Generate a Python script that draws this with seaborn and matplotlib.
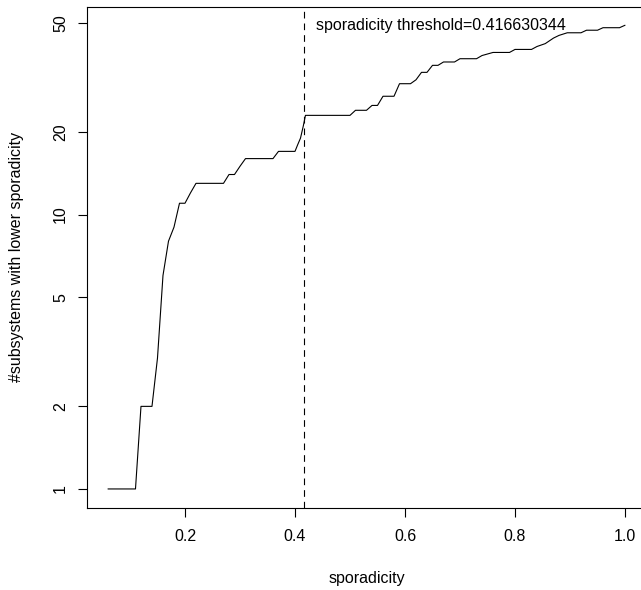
import numpy as np
import pandas as pd
import matplotlib
matplotlib.use("Agg")
import matplotlib.pyplot as plt
import seaborn as sns

# values
sporadicity = [0.06, 0.11, 0.12, 0.14, 0.15, 0.16, 0.17, 0.18, 0.19, 0.20,
               0.21, 0.22, 0.27, 0.28, 0.29, 0.30, 0.31, 0.36, 0.37, 0.40,
               0.405, 0.41, 0.415, 0.419, 0.50, 0.51, 0.53, 0.54, 0.55, 0.56,
               0.58, 0.59, 0.61, 0.62, 0.63, 0.64, 0.65, 0.66, 0.67, 0.69,
               0.70, 0.73, 0.74, 0.76, 0.79, 0.80, 0.83, 0.84, 0.855, 0.87,
               0.88, 0.895, 0.92, 0.93, 0.95, 0.96, 0.99, 1.00]
n_lower = [1, 1, 2, 2, 3, 6, 8, 9, 11, 11,
           12, 13, 13, 14, 14, 15, 16, 16, 17, 17,
           18, 19, 21, 23, 23, 24, 24, 25, 25, 27,
           27, 30, 30, 31, 33, 33, 35, 35, 36, 36,
           37, 37, 38, 39, 39, 40, 40, 41, 42, 44,
           45, 46, 46, 47, 47, 48, 48, 49]
threshold = 0.416630344
y_ticks = [1, 2, 5, 10, 20, 50]

df = pd.DataFrame({"sporadicity": sporadicity, "n": n_lower})

sns.set_style("ticks")
plt.rcParams["font.family"] = ["Liberation Sans", "DejaVu Sans"]
plt.rcParams["text.color"] = "black"
plt.rcParams["axes.labelcolor"] = "black"
fs = 11.5

W, H = 641, 590
fig = plt.figure(figsize=(W / 100, H / 100), dpi=100)
left, right, top, bottom = 87.3, 645.7, 6.7, 507.5
ax = fig.add_axes([left / W, (H - bottom) / H, (right - left) / W, (bottom - top) / H])

sns.lineplot(data=df, x="sporadicity", y="n", ax=ax, color="black",
             linewidth=0.8, sort=False, estimator=None)
ax.axvline(threshold, color="black", linewidth=0.8, dashes=(6, 4.5))

ax.set_yscale("log")
xmin, xmax = min(sporadicity), max(sporadicity)
xr = xmax - xmin
ax.set_xlim(xmin - 0.04 * xr, xmax + 0.04 * xr)
lr = np.log10(max(n_lower)) - np.log10(min(n_lower))
ax.set_ylim(10 ** (np.log10(min(n_lower)) - 0.04 * lr), 10 ** (np.log10(max(n_lower)) + 0.04 * lr))

ax.set_xticks([0.2, 0.4, 0.6, 0.8, 1.0])
ax.set_xticklabels(["0.2", "0.4", "0.6", "0.8", "1.0"])
ax.set_yticks(y_ticks)
ax.set_yticklabels([str(v) for v in y_ticks], rotation=90, va="center")
ax.yaxis.set_minor_locator(matplotlib.ticker.NullLocator())

ax.tick_params(axis="both", length=6.8, width=0.8, color="black",
               labelsize=fs, labelcolor="black")
ax.tick_params(axis="x", pad=9)
ax.tick_params(axis="y", pad=7)
for s in ax.spines.values():
    s.set_linewidth(0.8)
    s.set_color("black")
    s.set_visible(True)

ax.set_xlabel("sporadicity", fontsize=fs, labelpad=19)
ax.set_ylabel("#subsystems with lower sporadicity", fontsize=fs, labelpad=21)

ax.annotate(f"sporadicity threshold={threshold}", xy=(threshold, max(n_lower)),
            xytext=(8.5, 0), textcoords="offset points", ha="left", va="center",
            fontsize=fs, color="black")

fig.savefig("out.png", dpi=100)
